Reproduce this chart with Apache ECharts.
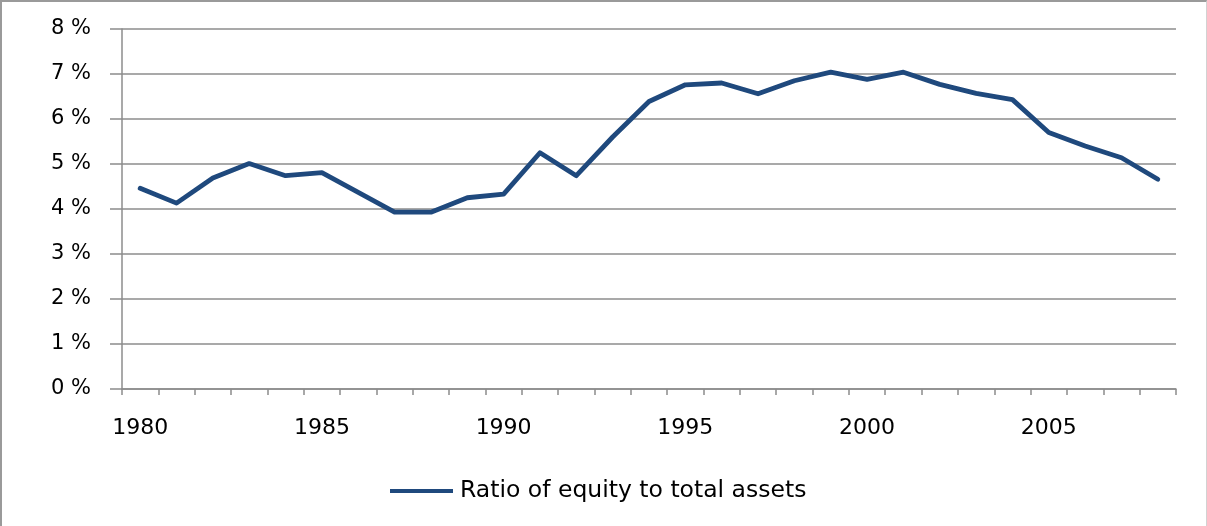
<!DOCTYPE html>
<html>
<head>
<meta charset="utf-8">
<script src="https://cdn.jsdelivr.net/npm/echarts@6/dist/echarts.min.js"></script>
<style>
  html, body { margin: 0; padding: 0; background: #fff; }
  #chart {
    width: 1207px; height: 526px; box-sizing: border-box;
    border-top: 2px solid #9a9a9a;
    border-left: 2px solid #9a9a9a;
    border-right: 1px solid #d2d2d2;
  }
</style>
</head>
<body>
<div id="chart"></div>
<script>
// Years on the category axis
const years = [];
for (let y = 1980; y <= 2008; y++) years.push(String(y));

// Ratio of equity to total assets, in percent
const equityRatio = [
  4.46, 4.13, 4.69, 5.01, 4.74, 4.81, 4.37, 3.93, 3.93, 4.25,
  4.33, 5.25, 4.74, 5.60, 6.39, 6.76, 6.80, 6.56, 6.85, 7.04,
  6.88, 7.04, 6.77, 6.57, 6.43, 5.70, 5.40, 5.14, 4.66
];

const seriesName = 'Ratio of equity to total assets';
const fontFamily = '"DejaVu Sans", Verdana, sans-serif';
const gridColor = '#8c8c8c';
const lineColor = '#1f497d';

const chart = echarts.init(document.getElementById('chart'), null, { renderer: 'canvas' });
chart.setOption({
  animation: false,
  backgroundColor: '#fff',
  grid: { left: 120, right: 30, top: 27, bottom: 137, containLabel: false },
  legend: {
    bottom: 18,
    left: 383,
    itemWidth: 63,
    itemHeight: 4,
    itemGap: 10,
    textStyle: { fontFamily, fontSize: 23.5, color: '#000', padding: [0, 0, 0, 2] },
    data: [{ name: seriesName, icon: 'rect' }]
  },
  xAxis: {
    type: 'category',
    data: years,
    boundaryGap: true,
    axisLine: { show: true, lineStyle: { color: gridColor, width: 1.5 } },
    axisTick: { show: true, length: 6, interval: 0, alignWithLabel: false, lineStyle: { color: gridColor, width: 1.5 } },
    axisLabel: {
      interval: 4,
      margin: 28,
      fontFamily, fontSize: 22, color: '#000'
    },
    splitLine: { show: false }
  },
  yAxis: {
    type: 'value',
    min: 0, max: 8, interval: 1,
    axisLine: { show: true, lineStyle: { color: gridColor, width: 1.5 } },
    axisTick: { show: true, length: 12, inside: false, lineStyle: { color: gridColor, width: 1.5 } },
    axisLabel: {
      margin: 31,
      fontFamily, fontSize: 21, color: '#000',
      formatter: v => v + ' %'
    },
    splitLine: { show: true, lineStyle: { color: gridColor, width: 1.5 } }
  },
  series: [{
    name: seriesName,
    type: 'line',
    data: equityRatio,
    symbol: 'none',
    smooth: false,
    lineStyle: { color: lineColor, width: 4.8, join: 'round', cap: 'round' },
    itemStyle: { color: lineColor }
  }]
});
</script>
</body>
</html>
